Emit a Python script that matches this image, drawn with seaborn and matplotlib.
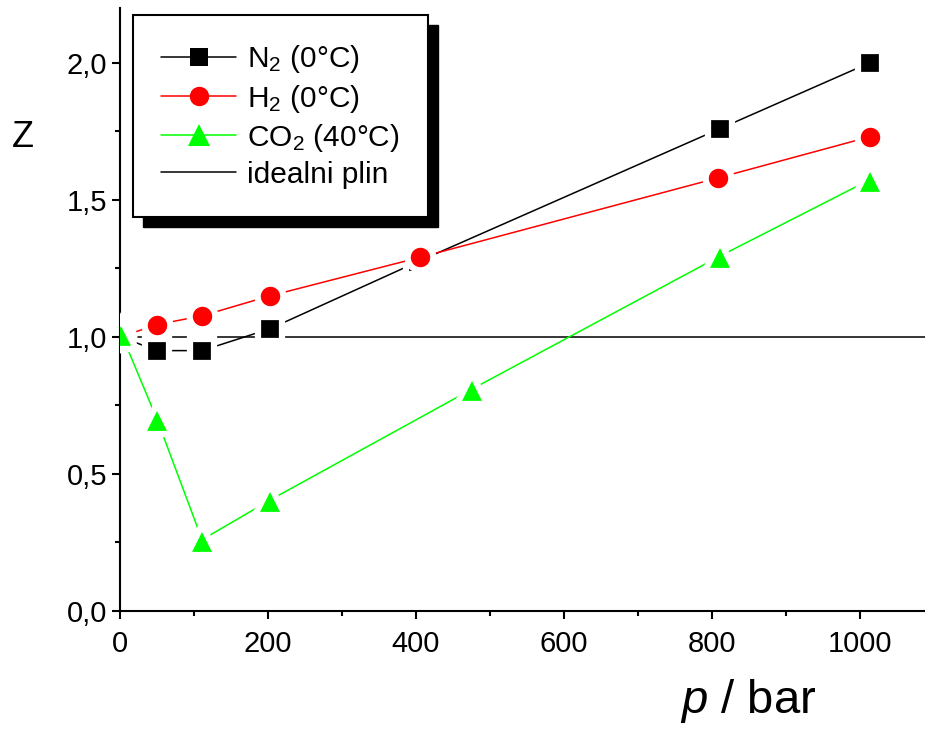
import numpy as np
import pandas as pd
import seaborn as sns
import matplotlib
matplotlib.use("Agg")
import matplotlib.pyplot as plt
from matplotlib.ticker import MultipleLocator, FuncFormatter
from matplotlib.patches import Rectangle

# podaci (ocitano sa slike)
p_n2 = [1, 50, 111, 203, 403, 811, 1013]
z_n2 = [1.00, 0.95, 0.95, 1.03, 1.275, 1.76, 2.00]
p_h2 = [1, 50, 111, 203, 405, 808, 1013]
z_h2 = [1.00, 1.045, 1.077, 1.15, 1.29, 1.58, 1.73]
p_co2 = [2, 50, 111, 203, 476, 811, 1013]
z_co2 = [1.01, 0.70, 0.26, 0.405, 0.81, 1.295, 1.573]
z_ideal = 1.0

sns.set_style("ticks")
plt.rcParams['font.family'] = ['Liberation Sans', 'DejaVu Sans']
plt.rcParams['mathtext.fontset'] = 'custom'
plt.rcParams['mathtext.rm'] = 'Liberation Sans'
plt.rcParams['mathtext.it'] = 'Liberation Sans:italic'
for k in ['text.color', 'axes.labelcolor', 'xtick.color', 'ytick.color', 'axes.edgecolor']:
    plt.rcParams[k] = 'black'

fig = plt.figure(figsize=(9.25, 7.31), dpi=100)
ax = fig.add_axes([0.1297, 0.1642, 0.8703, 0.8248])

boje = ['black', '#ff0000', '#00ff00']
common = dict(lw=1.1, mec='white', mew=4.5, sort=False, estimator=None)
sns.lineplot(x=p_n2, y=z_n2, color=boje[0], marker='s', markersize=17,
             label='N$_2$ (0°C)', ax=ax, zorder=3, **common)
sns.lineplot(x=p_h2, y=z_h2, color=boje[1], marker='o', markersize=18.5,
             label='H$_2$ (0°C)', ax=ax, zorder=3, **common)
sns.lineplot(x=p_co2, y=z_co2, color=boje[2], marker='^', markersize=21,
             label='CO$_2$ (40°C)', ax=ax, zorder=3, **common)
ax.axhline(z_ideal, color='black', lw=1.1, label='idealni plin', zorder=2)

ax.set_xlim(0, 1088)
ax.set_ylim(0, 2.2)
ax.xaxis.set_major_locator(MultipleLocator(200))
ax.xaxis.set_minor_locator(MultipleLocator(100))
ax.yaxis.set_major_locator(MultipleLocator(0.5))
ax.yaxis.set_minor_locator(MultipleLocator(0.25))
ax.yaxis.set_major_formatter(FuncFormatter(lambda v, _: f"{v:.1f}".replace('.', ',')))

sns.despine(ax=ax)
for s in ['left', 'bottom']:
    ax.spines[s].set_linewidth(1.5)
ax.tick_params(which='major', direction='out', length=6, width=1.5, labelsize=21)
ax.tick_params(which='minor', direction='out', length=3.5, width=1.5)
ax.tick_params(axis='x', pad=8)
ax.tick_params(axis='y', pad=3)

ax.set_xlabel('$p$ / bar', fontsize=34, va='center')
ax.xaxis.set_label_coords(0.780, -0.150)
ax.set_ylabel('Z', fontsize=26, rotation=0, ha='center', va='center')
ax.yaxis.set_label_coords(-0.121, 0.786)

leg = ax.legend(loc='upper left', bbox_to_anchor=(0.1438, 0.9795),
                bbox_transform=fig.transFigure, borderaxespad=0,
                fontsize=21.5, frameon=True, fancybox=False, framealpha=1,
                edgecolor='black', handlelength=2.5, handletextpad=0.38,
                borderpad=0.95, labelspacing=0.24)
leg.get_frame().set_linewidth(1.5)
leg.set_zorder(5)
# u legendi markeri bez bijelog ruba
for h, c, ms in zip(leg.legend_handles[:3], boje, [12.5, 14, 16]):
    h.set_markeredgewidth(0)
    h.set_markersize(ms)

# sjena legende
fig.canvas.draw()
bb = leg.get_window_extent().transformed(fig.transFigure.inverted())
dx, dy = 10 / 925, 10 / 731
ax.add_patch(Rectangle((bb.x0 + dx, bb.y0 - dy), bb.width, bb.height,
                       transform=fig.transFigure, color='black',
                       zorder=4.9, clip_on=False))

fig.savefig('out.png', dpi=100)
